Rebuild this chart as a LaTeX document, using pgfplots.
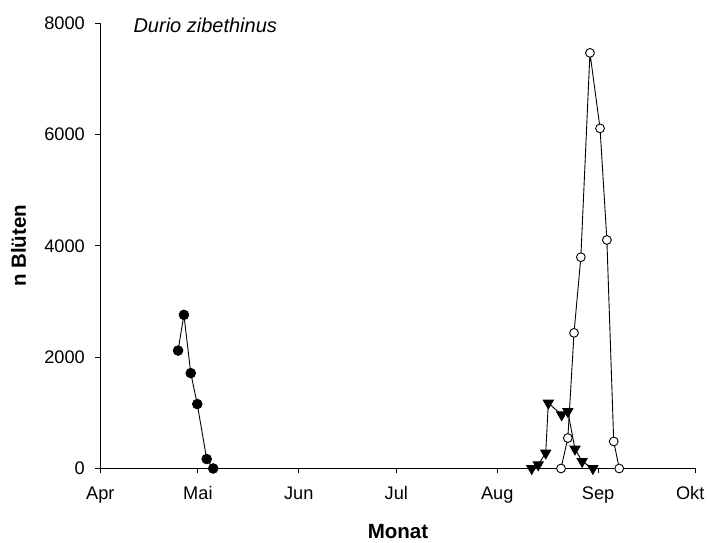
\documentclass[border=0pt]{standalone}
\usepackage{pgfplots}
\pgfplotsset{compat=1.18}
\usepackage{fontspec}
\setmainfont{Liberation Sans}
\begin{document}
\begin{tikzpicture}
\useasboundingbox (0,0) rectangle (707pt,543pt);
\begin{axis}[
  at={(100.3pt,74.5pt)}, anchor=south west,
  scale only axis, width=595.4pt, height=445.5pt,
  xmin=0, xmax=183, ymin=0, ymax=8000,
  axis x line=bottom, axis y line=left,
  axis line style={-, line width=0.9pt},
  tick align=outside, major tick length=5pt,
  tick style={line width=0.9pt, black},
  xtick={0,30,61,91,122,153,183},
  xticklabels={Apr,Mai,Jun,Jul,Aug,Sep,{Okt\hspace*{11pt}}},
  ytick={0,2000,4000,6000,8000},
  /pgf/number format/assume math mode=true,
  scaled y ticks=false,
  yticklabel style={/pgf/number format/1000 sep={}},
  tick label style={font=\fontsize{18.2}{20}\selectfont},
  xticklabel style={yshift=-9pt, text height=13pt, text depth=4pt},
  yticklabel style={xshift=-7pt},
  xlabel={\bfseries Monat},
  ylabel={\bfseries n Blüten},
  label style={font=\fontsize{20.5}{22}\selectfont},
  xlabel style={at={(axis description cs:0.5,-0.142)}, anchor=center},
  ylabel style={at={(axis description cs:-0.1374,0.5)}, anchor=center, rotate=0},
  clip=false,
]
\addplot[black, line width=0.9pt, mark=*, mark size=4.8pt, mark options={fill=black}] coordinates {
(23.9,2118) (25.7,2759) (27.8,1713) (29.8,1157) (32.7,170) (34.7,0)
};
\addplot[black, line width=0.9pt, mark=triangle*, mark size=5.8pt, mark options={fill=black, rotate=180}] coordinates {
(132.6,0) (134.6,68) (136.9,278) (137.7,1175) (141.8,965) (143.7,1024) (145.9,350) (148.1,127) (151.4,0)
};
\addplot[black, line width=0.9pt, mark=*, mark size=4.4pt, mark options={fill=white}] coordinates {
(141.6,0) (143.7,547) (145.6,2436) (147.7,3794) (150.5,7464) (153.6,6108) (155.7,4104) (157.8,486) (159.5,0)
};
\node[anchor=west, font=\fontsize{20}{22}\selectfont\itshape] at (axis description cs:0.0499,0.9955) {Durio zibethinus};
\end{axis}
\end{tikzpicture}
\end{document}
